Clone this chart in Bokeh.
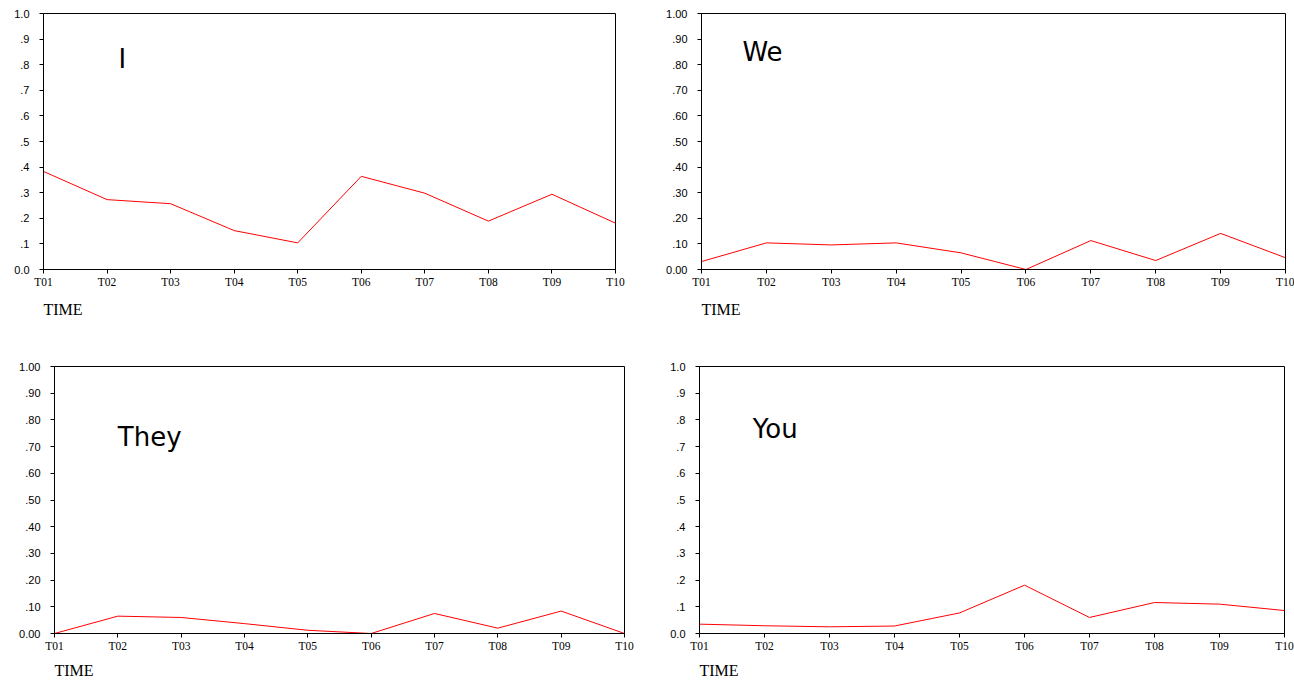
from bokeh.plotting import figure
from bokeh.layouts import column, row
from bokeh.models import Range1d, FixedTicker, Label, Title
from bokeh.embed import file_html
from bokeh.resources import INLINE

# ---- data ----
times = ["T01", "T02", "T03", "T04", "T05", "T06", "T07", "T08", "T09", "T10"]
y_ticks = [0.0, 0.1, 0.2, 0.3, 0.4, 0.5, 0.6, 0.7, 0.8, 0.9, 1.0]
y_labels_1 = ["0.0", ".1", ".2", ".3", ".4", ".5", ".6", ".7", ".8", ".9", "1.0"]
y_labels_2 = ["0.00", ".10", ".20", ".30", ".40", ".50", ".60", ".70", ".80", ".90", "1.00"]

i_vals = [0.383, 0.273, 0.257, 0.152, 0.104, 0.364, 0.298, 0.189, 0.294, 0.181]
we_vals = [0.031, 0.104, 0.096, 0.104, 0.065, 0.0, 0.113, 0.035, 0.141, 0.046]
they_vals = [0.0, 0.065, 0.060, 0.037, 0.012, 0.0, 0.075, 0.020, 0.084, 0.0]
you_vals = [0.035, 0.029, 0.025, 0.028, 0.077, 0.181, 0.060, 0.116, 0.110, 0.086]

xs = list(range(1, len(times) + 1))


def make_panel(vals, name, ylabels, width, height, bl, br, bt, bb, lx, ly, title_standoff):
    p = figure(width=width, height=height, output_backend="svg", toolbar_location=None,
               x_range=Range1d(1, len(times)), y_range=Range1d(0, 1),
               min_border_left=bl, min_border_right=br, min_border_top=bt, min_border_bottom=bb)
    p.background_fill_color = "white"
    p.border_fill_color = "white"
    p.outline_line_color = "black"
    p.outline_line_width = 1
    p.xgrid.visible = False
    p.ygrid.visible = False

    p.xaxis.ticker = FixedTicker(ticks=xs)
    p.xaxis.major_label_overrides = {x: t for x, t in zip(xs, times)}
    p.yaxis.ticker = FixedTicker(ticks=y_ticks)
    p.yaxis.major_label_overrides = {v: s for v, s in zip(y_ticks, ylabels)}

    for ax in (p.xaxis[0], p.yaxis[0]):
        ax.axis_line_color = "black"
        ax.axis_line_width = 1
        ax.major_tick_line_color = "black"
        ax.major_tick_out = 4
        ax.major_tick_in = 0
        ax.minor_tick_line_color = None
        ax.major_label_text_color = "black"
    p.xaxis.major_label_standoff = 2
    p.yaxis.major_label_standoff = 10
    p.xaxis.major_label_text_font = "Liberation Serif"
    p.xaxis.major_label_text_font_size = "11.5px"
    p.yaxis.major_label_text_font = "Liberation Sans"
    p.yaxis.major_label_text_font_size = "11px"

    p.line(x=xs, y=vals, line_color="#FF0000", line_width=1)

    p.add_layout(Label(x=lx, y=ly, text=name, text_font="DejaVu Sans",
                       text_font_size="26px", text_color="black",
                       text_baseline="alphabetic", text_align="left"))
    p.add_layout(Title(text="TIME", align="left", text_font="Liberation Serif",
                       text_font_size="16px", text_font_style="normal",
                       text_color="black", standoff=title_standoff, offset=0), "below")
    return p


p1 = make_panel(i_vals, "I", y_labels_1, 658, 338, 43, 43, 13, 69, 2.18, 0.824, 17)
p2 = make_panel(we_vals, "We", y_labels_2, 636, 338, 43, 9, 13, 69, 1.63, 0.85, 17)
p3 = make_panel(they_vals, "They", y_labels_2, 658, 347, 54, 34, 28, 52, 2.0, 0.737, 11)
p4 = make_panel(you_vals, "You", y_labels_1, 636, 347, 41, 10, 28, 52, 1.82, 0.765, 11)

layout = column(row(p1, p2), row(p3, p4))

open("out.html", "w").write(file_html(layout, INLINE))
